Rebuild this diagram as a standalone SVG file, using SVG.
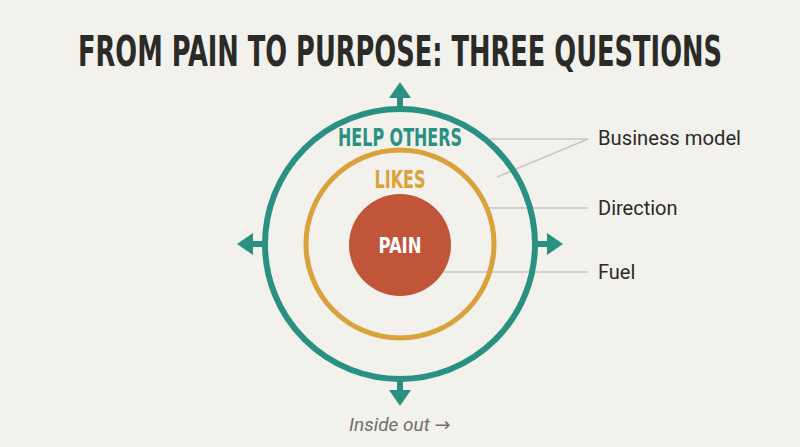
<svg xmlns="http://www.w3.org/2000/svg" width="800" height="447" viewBox="0 0 800 447">
<style>
.title{font-family:"Liberation Sans Narrow","DejaVu Sans Condensed","Liberation Sans",sans-serif;font-stretch:condensed;font-weight:bold;fill:#2b2a27}
.ring{font-family:"Liberation Sans Narrow","DejaVu Sans Condensed","Liberation Sans",sans-serif;font-stretch:condensed;font-weight:bold;text-anchor:middle}
.lbl{font-family:Roboto,"Liberation Sans",sans-serif;font-size:20px;fill:#2b2a27}
.lead{stroke:#c9c9c4;stroke-width:1.5;fill:none}
.arr{fill:#2a9182}
</style>
<rect width="800" height="447" fill="#f2f1ec"/>
<text class="title" x="78" y="66" font-size="42" textLength="644" lengthAdjust="spacingAndGlyphs">FROM PAIN TO PURPOSE: THREE QUESTIONS</text>
<g id="connectors">
<line class="lead" x1="490" y1="139" x2="588" y2="139"/>
<line class="lead" x1="497" y1="177" x2="588" y2="139"/>
<line class="lead" x1="488" y1="208" x2="588" y2="208"/>
<line class="lead" x1="430" y1="272" x2="588" y2="272"/>
</g>
<g id="help-others">
<circle cx="400" cy="244" r="135" fill="none" stroke="#2a9182" stroke-width="6"/>
<rect class="arr" x="397" y="96" width="6" height="12"/>
<polygon class="arr" points="400,82 411,98 389,98"/>
<rect class="arr" x="397" y="380" width="6" height="10"/>
<polygon class="arr" points="400,406 411,390 389,390"/>
<rect class="arr" x="251" y="241" width="14" height="6"/>
<polygon class="arr" points="237,244 253,233 253,255"/>
<rect class="arr" x="535" y="241" width="14" height="6"/>
<polygon class="arr" points="563,244 547,233 547,255"/>
<text class="ring" x="400" y="146" font-size="25" fill="#2a9182" textLength="124" lengthAdjust="spacingAndGlyphs">HELP OTHERS</text>
</g>
<g id="likes">
<circle cx="400" cy="244" r="94" fill="none" stroke="#d9a23b" stroke-width="5"/>
<text class="ring" x="400" y="188" font-size="24" fill="#d9a23b" textLength="51" lengthAdjust="spacingAndGlyphs">LIKES</text>
</g>
<g id="pain">
<circle cx="400" cy="245" r="51" fill="#c0553a"/>
<text class="ring" x="400" y="253" font-size="21" fill="#ffffff" textLength="43" lengthAdjust="spacingAndGlyphs">PAIN</text>
</g>
<g id="labels">
<text class="lbl" x="598" y="145" textLength="143" lengthAdjust="spacingAndGlyphs">Business model</text>
<text class="lbl" x="598" y="215">Direction</text>
<text class="lbl" x="598" y="279">Fuel</text>
</g>
<text x="349" y="431" font-family="Roboto,'Liberation Sans',sans-serif" font-style="italic" font-size="19" fill="#707070">Inside out <tspan font-family="'DejaVu Sans',sans-serif" font-style="normal" font-size="19">→</tspan></text>
</svg>
